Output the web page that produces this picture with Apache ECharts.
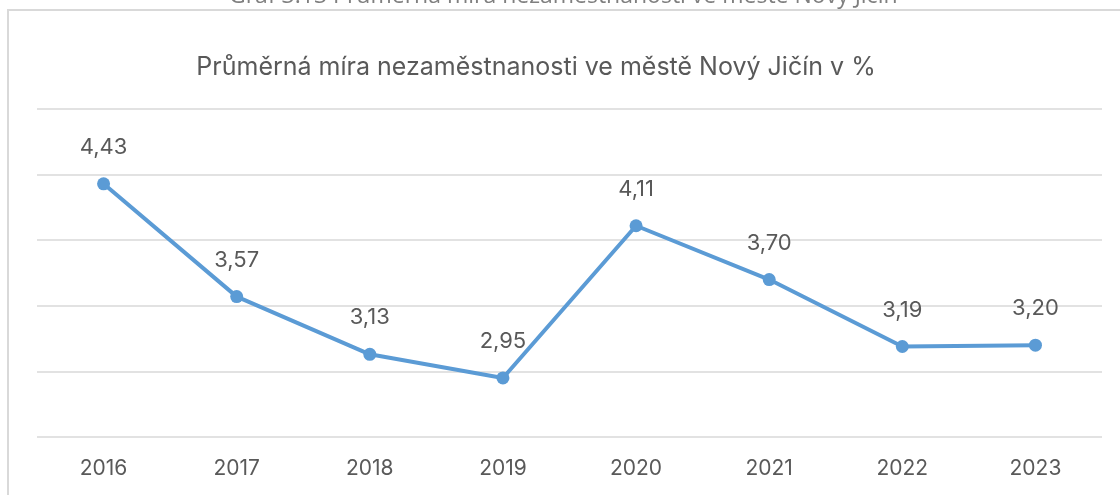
<!DOCTYPE html>
<html>
<head>
<meta charset="utf-8">
<script src="https://cdn.jsdelivr.net/npm/echarts@6/dist/echarts.min.js"></script>
<style>
  html, body { margin: 0; padding: 0; background: #fff; }
  #chart { width: 1120px; height: 495px; }
</style>
</head>
<body>
<div id="chart"></div>
<script>
// data
const years = ['2016', '2017', '2018', '2019', '2020', '2021', '2022', '2023']
const unemployment = [4.43, 3.57, 3.13, 2.95, 4.11, 3.70, 3.19, 3.20]
const titleText = 'Průměrná míra nezaměstnanosti ve městě Nový Jičín v %'
const captionText = 'Graf 3.13 Průměrná míra nezaměstnanosti ve městě Nový Jičín'

const grey = '#595959'
const chart = echarts.init(document.getElementById('chart'))

chart.setOption({
  animation: false,
  textStyle: { fontFamily: 'Inter' },
  // rámeček grafu a useknutý popisek nahoře
  graphic: [
    {
      type: 'text',
      x: 229,
      y: -15,
      style: { text: captionText, font: '23px "Open Sans"', fill: '#7f7f7f' }
    },
    {
      type: 'rect',
      shape: { x: 8, y: 10, width: 1300, height: 700 },
      style: { fill: 'transparent', stroke: '#d9d9d9', lineWidth: 2 }
    }
  ],
  title: {
    text: titleText,
    left: 531,
    textAlign: 'center',
    top: 50,
    textStyle: { fontSize: 25, fontWeight: 'normal', color: grey, fontFamily: 'Inter' }
  },
  grid: { left: 37, right: 18, top: 109, bottom: 58 },
  xAxis: {
    type: 'category',
    data: years,
    boundaryGap: true,
    axisLine: { show: false },
    axisTick: { show: false },
    axisLabel: { color: grey, fontSize: 21, margin: 21 }
  },
  yAxis: {
    type: 'value',
    min: 2.5,
    max: 5,
    interval: 0.5,
    axisLabel: { show: false },
    axisLine: { show: false },
    axisTick: { show: false },
    splitLine: { lineStyle: { color: '#d9d9d9', width: 1.5 } }
  },
  series: [{
    type: 'line',
    data: unemployment,
    symbol: 'circle',
    symbolSize: 13,
    lineStyle: { color: '#5b9bd5', width: 4 },
    itemStyle: { color: '#5b9bd5' },
    label: {
      show: true,
      position: 'top',
      distance: 19,
      color: grey,
      fontSize: 22,
      formatter: p => p.value.toFixed(2).replace('.', ',')
    }
  }]
})
</script>
</body>
</html>
